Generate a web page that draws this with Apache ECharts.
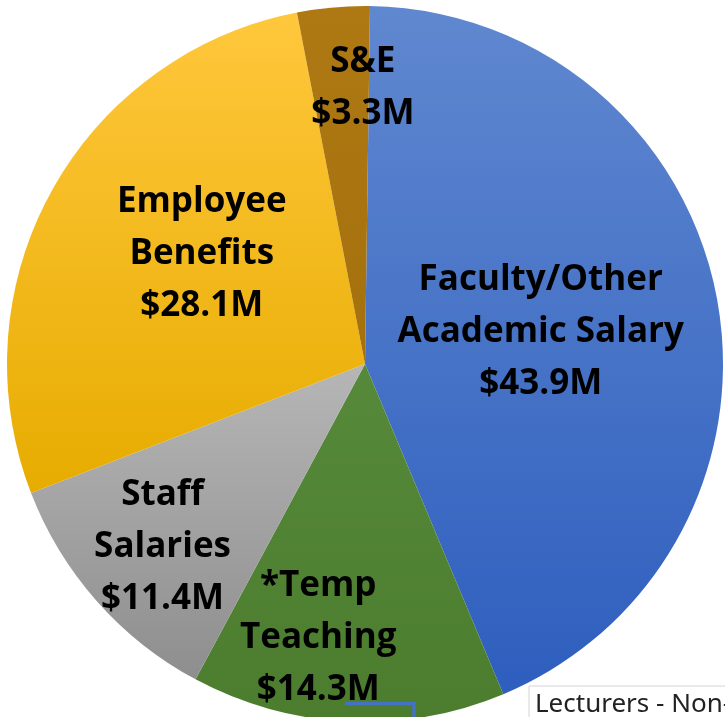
<!DOCTYPE html>
<html>
<head>
<meta charset="utf-8">
<script src="https://cdn.jsdelivr.net/npm/echarts@6/dist/echarts.min.js"></script>
<style>
	html, body { margin: 0; padding: 0; background: #fff; }
	#main { width: 725px; height: 717px; }
</style>
</head>
<body>
<div id="main"></div>
<script>
// 数据
var names = ['Faculty/Other\nAcademic Salary', '*Temp\nTeaching', 'Staff\nSalaries', 'Employee\nBenefits', 'S&E']
var values = [43.9, 14.3, 11.4, 28.1, 3.3]
var gradients = [
	['#6088D0', '#2E5EBE'],
	['#57893B', '#4C7D2F'],
	['#B6B6B6', '#8E8E8E'],
	['#FFC73C', '#E7AC00'],
	['#AE7913', '#A5710D']
]
// label nudges from the default inside spot
var labelShift = [[-3, 3], [-38, 92], [-66, 63], [-4, -22], [14, -95]]

var chart = echarts.init(document.getElementById('main'))

var data = values.map(function(v, i) {
	return {
		name: names[i],
		value: v,
		itemStyle: {
			color: new echarts.graphic.LinearGradient(0, 0, 0, 1, [
				{ offset: 0, color: gradients[i][0] },
				{ offset: 1, color: gradients[i][1] }
			])
		}
	}
})

var option = {
	animation: false,
	series: [{
		type: 'pie',
		center: [365, 364],
		radius: 358,
		startAngle: 89.2,
		clockwise: true,
		data: data,
		itemStyle: { borderWidth: 0 },
		emphasis: { disabled: true },
		label: {
			position: 'inside',
			formatter: '{b}\n${c}M',
			color: '#000',
			fontFamily: 'Open Sans',
			fontWeight: 'bold',
			fontSize: 35,
			lineHeight: 52,
			align: 'center'
		},
		labelLine: { show: false },
		labelLayout: function(params) {
			var s = labelShift[params.dataIndex]
			return { dx: s[0], dy: s[1] }
		}
	}],
	graphic: [
		{
			type: 'rect',
			z: 100,
			shape: { x: 529, y: 686, width: 210, height: 40 },
			style: { fill: '#fff', stroke: '#D4D4D4', lineWidth: 1 }
		},
		{
			type: 'text',
			z: 101,
			x: 535,
			y: 705,
			style: {
				text: 'Lecturers - Non-',
				font: '26px "Noto Sans"',
				fill: '#222',
				verticalAlign: 'middle'
			}
		},
		{
			type: 'polyline',
			z: 100,
			shape: { points: [[345, 703.5], [414, 703.5], [414, 720]] },
			style: { stroke: '#4472C4', lineWidth: 3.5, fill: null }
		}
	]
}

chart.setOption(option)
</script>
</body>
</html>
